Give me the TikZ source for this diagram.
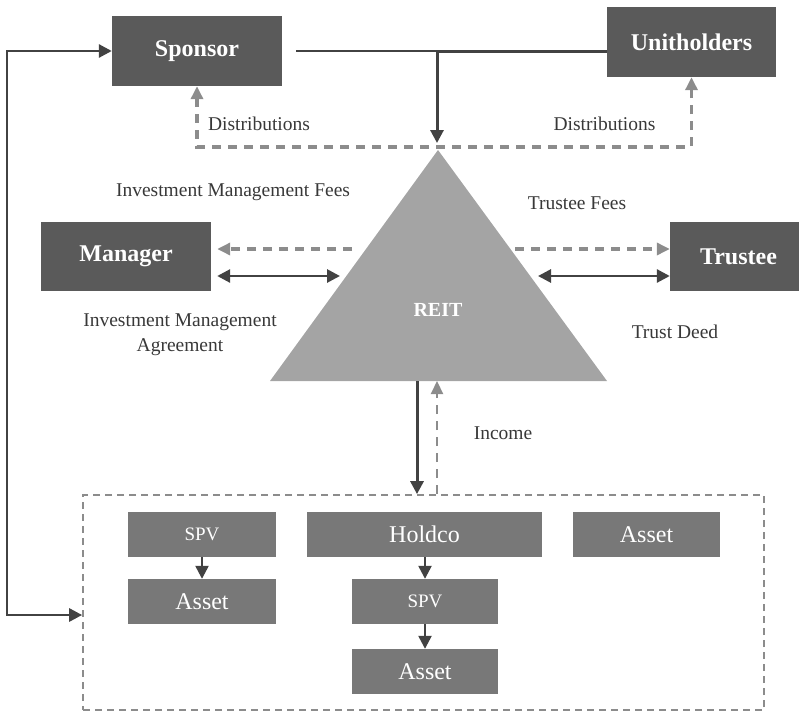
\documentclass[tikz,border=0pt]{standalone}
\usepackage{fontspec}
\setmainfont{Liberation Serif}
\usetikzlibrary{arrows.meta}

\definecolor{boxdark}{HTML}{5A5A5A}
\definecolor{boxmid}{HTML}{787878}
\definecolor{reitgray}{HTML}{A4A4A4}
\definecolor{flowgray}{HTML}{8C8C8C}
\definecolor{linkdark}{HTML}{424242}
\definecolor{labeltext}{HTML}{383838}

\tikzset{
  partybox/.style={fill=boxdark, text=white, inner sep=0pt,
    font=\bfseries\fontsize{24}{28}\selectfont, minimum height=70pt},
  holdbox/.style={fill=boxmid, text=white, inner sep=0pt,
    minimum height=45pt, font=\fontsize{24}{28}\selectfont},
  flowlabel/.style={text=labeltext, font=\fontsize{19.5}{25}\selectfont, align=center},
  bigtip/.tip={Triangle[length=13pt,width=13pt]},
  feetip/.tip={Triangle[length=13pt,width=12pt]},
  link/.style={draw=linkdark, line width=2.8pt},
  payment/.style={draw=flowgray, line width=3.4pt, dash pattern=on 9pt off 7pt, -feetip},
}

\begin{document}
\begin{tikzpicture}[x=1pt,y=-1pt]
\useasboundingbox (0,0) rectangle (799,712);

% parties
\node[partybox, minimum width=170pt] (sponsor) at (197,51) {Sponsor};
\node[partybox, minimum width=169pt] (unitholders) at (691.5,42) {Unitholders};
\node[partybox, minimum width=170pt, minimum height=69pt] (manager) at (126,256.5) {Manager};
\node[partybox, minimum width=129pt, minimum height=69pt] (trustee) at (734.5,256.5) {\hspace*{8pt}Trustee};

% the trust itself
\fill[reitgray] (270,381) -- (438,150) -- (607,381) -- cycle;
\coordinate (apex) at (438,150);
\node[text=white, font=\bfseries\fontsize{20}{24}\selectfont] (reit) at (438,310) {REIT};

% holdings
\node[draw=flowgray, line width=1.7pt, dash pattern=on 7pt off 5pt,
      minimum width=681pt, minimum height=215pt, inner sep=0pt] (holdings) at (423.5,602.5) {};
\node[holdbox, minimum width=148pt, font=\fontsize{19}{23}\selectfont] (spvA) at (202,534.5) {SPV};
\node[holdbox, minimum width=148pt] (assetA) at (202,601.5) {Asset};
\node[holdbox, minimum width=235pt] (holdco) at (424.5,534.5) {Holdco};
\node[holdbox, minimum width=146pt, font=\fontsize{19}{23}\selectfont] (spvB) at (425,601.5) {SPV};
\node[holdbox, minimum width=146pt] (assetB) at (425,671.5) {Asset};
\node[holdbox, minimum width=147pt] (assetC) at (646.5,534.5) {Asset};

\draw[link, -bigtip, line width=2.4pt] (spvA) -- (assetA);
\draw[link, -bigtip, line width=2.4pt] (holdco.south -| spvB) -- (spvB);
\draw[link, -bigtip, line width=2.4pt] (spvB) -- (assetB);

% subscriptions flowing into the trust
\coordinate (join) at (437,51);
\draw[draw=linkdark, line width=2pt] ([xshift=14pt]sponsor.east) -- (join);
\draw[link, -bigtip, line width=3pt, shorten >=7pt]
  (join -| unitholders.west) -- (join) -- (join |- apex);

% distributions back to sponsor and unitholders
\coordinate (dist) at (197,147);
\draw[payment, feetip-feetip]
  (sponsor.south) |- (dist) -| (unitholders.south);
\node[flowlabel] (distL) at (259,124) {Distributions};
\node[flowlabel] (distR) at (604.5,124) {Distributions};

% manager relations
\coordinate (mfee) at (352,249);
\coordinate (mima) at (340,276);
\draw[payment, shorten >=6pt] (mfee) -- (mfee -| manager.east);
\draw[link, bigtip-bigtip, shorten <=6pt]
  (mima -| manager.east) -- (mima);
\node[flowlabel] (mfeeL) at (233,192) {Investment Management Fees};
\node[flowlabel] (mimaL) at (180,335) {Investment Management\\Agreement};

% trustee relations
\coordinate (tfee) at (515,249);
\coordinate (tdeed) at (538,276);
\draw[payment] (tfee) -- (tfee -| trustee.west);
\draw[link, bigtip-bigtip]
  (tdeed) -- (tdeed -| trustee.west);
\node[flowlabel] (tfeeL) at (577,203) {Trustee Fees};
\node[flowlabel] (tdeedL) at (675,332) {Trust Deed};

% investment into and income from the holdings
\coordinate (invest) at (417,381);
\coordinate (income) at (437,381);
\draw[link, -bigtip, line width=3pt] (invest) -- (invest |- holdings.north);
\draw[draw=flowgray, line width=2.2pt, dash pattern=on 9pt off 7pt, -feetip]
  (income |- holdings.north) -- (income);
\node[flowlabel] (incomeL) at (503,433) {Income};

% sponsor's own link to the holdings
\coordinate (loop) at (7,615);
\draw[link, bigtip-bigtip]
  (sponsor.west) -| (loop) -- (loop -| holdings.west);
\end{tikzpicture}
\end{document}
